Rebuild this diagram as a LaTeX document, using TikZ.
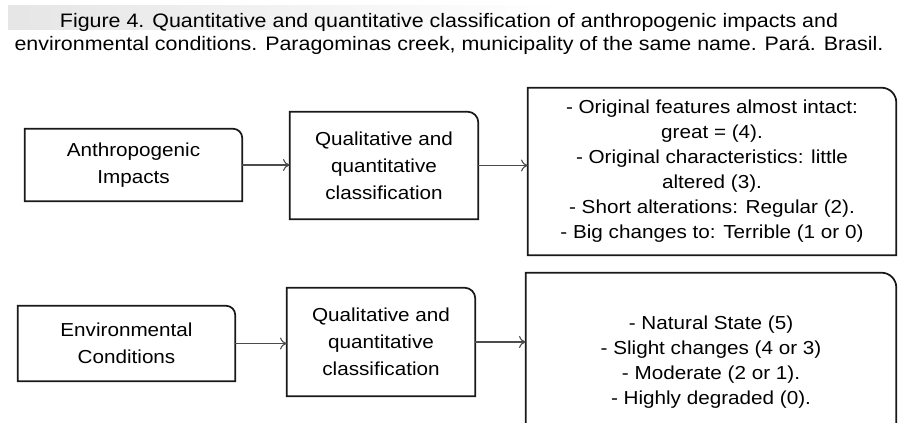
\documentclass[tikz,border=0pt]{standalone}
\usepackage{fontspec}
\setmainfont{Liberation Sans}[FakeStretch=1.1]
\usetikzlibrary{arrows.meta}
\begin{document}
\begin{tikzpicture}[x=0.75pt,y=-0.75pt,
  box/.style={rectangle,inner sep=0pt,align=center,font=\fontsize{14.1}{20.25}\selectfont},
  bigbox/.style={box,font=\fontsize{14.1}{18.75}\selectfont},
  boxline/.style={draw=black!90,line width=1.3pt},
  conn/.style={draw=black!70,line width=0.8pt,-{To[length=5pt,width=9pt]}}]
\useasboundingbox (0,0) rectangle (898,423);
\begin{scope}
\clip (0,0) rectangle (898,423);
\shade[left color=black!10,right color=white] (8,6) rectangle (560,30);
\node[font=\fontsize{14.6}{17.25}\selectfont,align=center] (title) at (449,34)
 {Figure 4. Quantitative and quantitative classification of anthropogenic impacts and\\
  environmental conditions. Paragominas creek, municipality of the same name. Pará. Brasil.};

\node[box,minimum width=217*0.75pt,minimum height=72*0.75pt] (a1) at (133.5,165) {Anthropogenic\\Impacts};
\node[box,minimum width=188*0.75pt,minimum height=107*0.75pt] (b1) at (384,165.5) {Qualitative and\\quantitative\\classification};
\node[bigbox,minimum width=368*0.75pt,minimum height=167*0.75pt] (c1) at (712,171.5)
 {- Original features almost intact:\\great = (4).\\- Original characteristics: little\\altered (3).\\- Short alterations: Regular (2).\\- Big changes to: Terrible (1 or 0)};

\node[box,minimum width=217*0.75pt,minimum height=75*0.75pt] (a2) at (126.5,343.5) {Environmental\\Conditions};
\node[box,minimum width=188*0.75pt,minimum height=108*0.75pt] (b2) at (381,342) {Qualitative and\\quantitative\\classification};
\node[bigbox,minimum width=370*0.75pt,minimum height=178*0.75pt] (c2) at (711,362)
 {- Natural State (5)\\- Slight changes (4 or 3)\\- Moderate (2 or 1).\\- Highly degraded (0).};

\foreach \n/\r in {a1/7pt,b1/8pt,c1/11pt,a2/7pt,b2/8pt,c2/11pt}{
  \draw[boxline] (\n.south west) -- (\n.north west) -- ([xshift=-\r]\n.north east)
    arc[start angle=90,end angle=0,radius=\r] -- (\n.south east) -- cycle;
}
\draw[conn] (a1.east) -- (a1.east -| b1.west);
\draw[conn] (b1.east) -- (b1.east -| c1.west);
\draw[conn] (a2.east) -- (a2.east -| b2.west);
\draw[conn] (b2.east) -- (b2.east -| c2.west);
\end{scope}
\end{tikzpicture}
\end{document}
